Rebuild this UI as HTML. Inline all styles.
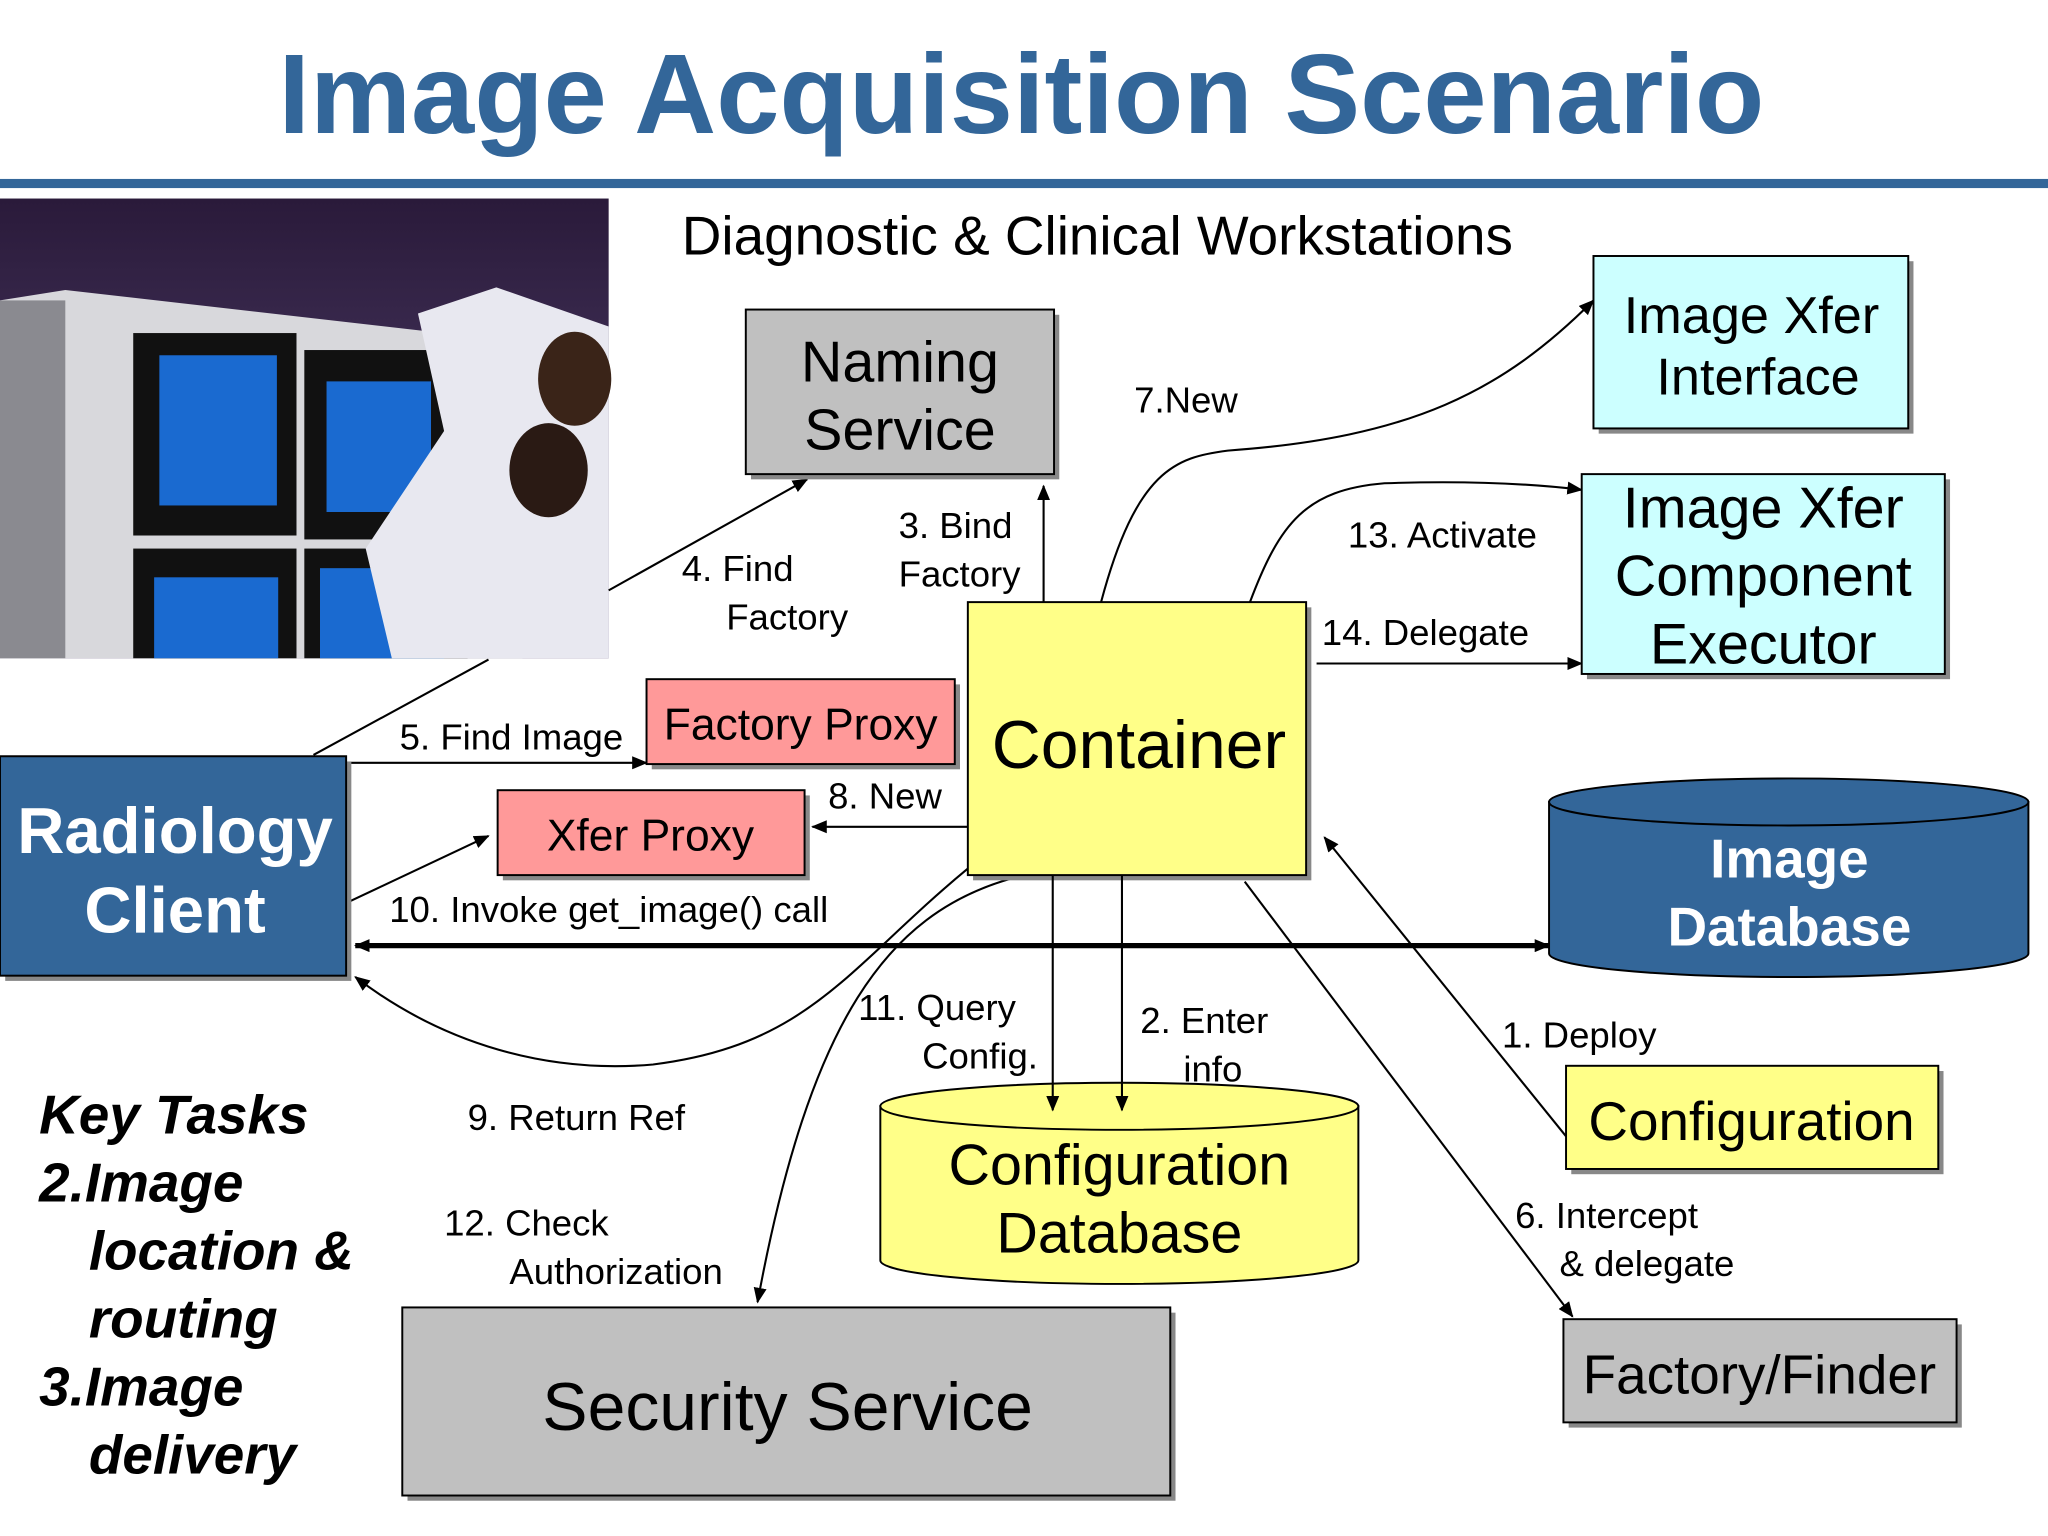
<!DOCTYPE html>
<html><head><meta charset="utf-8"><style>
html,body{margin:0;padding:0;background:#fff;}
svg{display:block;}
text{font-family:"Liberation Sans",Arial,sans-serif;}
</style></head><body>
<svg width="2048" height="1536" viewBox="0 0 1568 1176" preserveAspectRatio="none" xmlns="http://www.w3.org/2000/svg">
<defs>
<marker id="a" markerWidth="12" markerHeight="10" refX="11" refY="5" orient="auto" markerUnits="userSpaceOnUse"><path d="M0,0 L12,5 L0,10 z" fill="#000"/></marker>
<marker id="as" markerWidth="12" markerHeight="10" refX="1" refY="5" orient="auto" markerUnits="userSpaceOnUse"><path d="M12,0 L0,5 L12,10 z" fill="#000"/></marker>
<linearGradient id="bg" x1="0" y1="0" x2="0" y2="1"><stop offset="0" stop-color="#2a1a3a"/><stop offset="1" stop-color="#5a4a78"/></linearGradient>
</defs>
<rect width="1568" height="1176" fill="#fff"/>
<text x="782" y="102" font-size="87" font-weight="bold" fill="#336699" text-anchor="middle">Image Acquisition Scenario</text>
<rect x="0" y="137" width="1568" height="7" fill="#336699"/>

<!-- photo -->
<rect x="0" y="152" width="466" height="352" fill="url(#bg)"/>
<polygon points="0,230 50,222 400,262 400,504 0,504" fill="#d8d8dc"/>
<rect x="0" y="230" width="50" height="274" fill="#8a8a90"/>
<rect x="102" y="255" width="125" height="155" fill="#111"/><rect x="122" y="272" width="90" height="115" fill="#1a6ad0"/>
<rect x="233" y="268" width="125" height="145" fill="#111"/><rect x="250" y="292" width="80" height="100" fill="#1a6ad0"/>
<rect x="102" y="420" width="125" height="84" fill="#111"/><rect x="118" y="442" width="95" height="62" fill="#1a6ad0"/>
<rect x="233" y="420" width="125" height="84" fill="#111"/><rect x="245" y="435" width="95" height="69" fill="#1a6ad0"/>
<polygon points="320,240 380,220 466,250 466,504 300,504 280,420 340,330" fill="#e8e8f0"/>
<ellipse cx="440" cy="290" rx="28" ry="36" fill="#3a2418"/>
<ellipse cx="420" cy="360" rx="30" ry="36" fill="#2a1a14"/>

<text x="522" y="195" font-size="42">Diagnostic &amp; Clinical Workstations</text>

<!-- connectors -->
<g stroke="#000" stroke-width="1.6" fill="none">
<path d="M466,452 L618,367" marker-end="url(#a)"/>
<path d="M240,578 L374,505"/>
<path d="M799,461 L799,372" marker-end="url(#a)"/>
<path d="M843,461 C870,360 900,350 940,345 C1080,335 1150,300 1220,230" marker-end="url(#a)"/>
<path d="M957,461 C980,400 1000,375 1060,370 C1120,368 1170,370 1211,375" marker-end="url(#a)"/>
<path d="M1008,508 L1211,508" marker-end="url(#a)"/>
<path d="M268,584 L495,584" marker-end="url(#a)"/>
<path d="M741,633 L622,633" marker-end="url(#a)"/>
<path d="M268,690 L374,640" marker-end="url(#a)"/>
<path d="M741,665 C650,740 620,800 500,815 C420,822 340,800 272,748" marker-end="url(#a)"/>
<path d="M773,673 C680,700 620,780 580,997" marker-end="url(#a)"/>
<path d="M1199,870 L1014,641" marker-end="url(#a)"/>
<path d="M953,675 L1204,1008" marker-end="url(#a)"/>
</g>
<path d="M272,724 L1186,724" stroke="#000" stroke-width="4" fill="none" marker-end="url(#a)" marker-start="url(#as)"/>

<!-- labels -->
<g font-size="28">
<text x="908" y="316" text-anchor="middle">7.New</text>
<text x="688" y="412">3. Bind</text><text x="688" y="449">Factory</text>
<text x="522" y="445">4. Find</text><text x="556" y="482">Factory</text>
<text x="1032" y="419">13. Activate</text>
<text x="1012" y="494">14. Delegate</text>
<text x="306" y="574">5. Find Image</text>
<text x="634" y="619">8. New</text>
<text x="298" y="706">10. Invoke get_image() call</text>
<text x="657" y="781">11. Query</text><text x="706" y="818">Config.</text>
<text x="873" y="791">2. Enter</text><text x="906" y="828">info</text>
<text x="1150" y="802">1. Deploy</text>
<text x="358" y="865">9. Return Ref</text>
<text x="340" y="946">12. Check</text><text x="390" y="983">Authorization</text>
<text x="1160" y="940">6. Intercept</text><text x="1194" y="977">&amp; delegate</text>
</g>

<!-- nodes -->
<g stroke="#000" stroke-width="1.5">
<rect x="575" y="241" width="236" height="126" fill="#888" stroke="none"/>
<rect x="571" y="237" width="236" height="126" fill="#c0c0c0"/>
<rect x="1224" y="200" width="241" height="132" fill="#888" stroke="none"/>
<rect x="1220" y="196" width="241" height="132" fill="#ccffff"/>
<rect x="1215" y="367" width="278" height="153" fill="#888" stroke="none"/>
<rect x="1211" y="363" width="278" height="153" fill="#ccffff"/>
<rect x="745" y="465" width="259" height="209" fill="#888" stroke="none"/>
<rect x="741" y="461" width="259" height="209" fill="#ffff88"/>
<rect x="499" y="524" width="236" height="65" fill="#888" stroke="none"/>
<rect x="495" y="520" width="236" height="65" fill="#ff9999"/>
<rect x="385" y="609" width="235" height="65" fill="#888" stroke="none"/>
<rect x="381" y="605" width="235" height="65" fill="#ff9999"/>
<rect x="4" y="583" width="265" height="168" fill="#888" stroke="none"/>
<rect x="0" y="579" width="265" height="168" fill="#336699"/>
<rect x="1203" y="820" width="285" height="79" fill="#888" stroke="none"/>
<rect x="1199" y="816" width="285" height="79" fill="#ffff88"/>
<rect x="1201" y="1014" width="301" height="79" fill="#888" stroke="none"/>
<rect x="1197" y="1010" width="301" height="79" fill="#c0c0c0"/>
<rect x="312" y="1005" width="588" height="144" fill="#888" stroke="none"/>
<rect x="308" y="1001" width="588" height="144" fill="#c0c0c0"/>
<!-- image db -->
<path d="M1186,614 L1186,730 A183,18 0 0 0 1553,730 L1553,614 Z" fill="#336699"/>
<ellipse cx="1369.5" cy="614" rx="183.5" ry="18" fill="#336699"/>
<!-- config db -->
<path d="M674,847 L674,965 A183,18 0 0 0 1040,965 L1040,847 Z" fill="#ffff88"/>
<ellipse cx="857" cy="847" rx="183" ry="18" fill="#ffff88"/>
</g>
<g stroke="#000" stroke-width="1.6" fill="none">
<path d="M806,670 L806,850" marker-end="url(#a)"/>
<path d="M859,670 L859,850" marker-end="url(#a)"/>
</g>
<g font-size="40" text-anchor="middle">
<text x="689" y="292" font-size="44">Naming</text><text x="689" y="344" font-size="44">Service</text>
<text x="1341" y="255">Image Xfer</text><text x="1346" y="302">Interface</text>
<text x="1350" y="404" font-size="44">Image Xfer</text><text x="1350" y="456" font-size="44">Component</text><text x="1350" y="508" font-size="44">Executor</text>
<text x="872" y="588" font-size="52">Container</text>
<text x="613" y="566" font-size="34">Factory Proxy</text>
<text x="498" y="651" font-size="34">Xfer Proxy</text>
<text x="134" y="653" font-size="50" font-weight="bold" fill="#fff">Radiology</text>
<text x="134" y="714" font-size="50" font-weight="bold" fill="#fff">Client</text>
<text x="1370" y="672" font-size="42" font-weight="bold" fill="#fff">Image</text>
<text x="1370" y="724" font-size="42" font-weight="bold" fill="#fff">Database</text>
<text x="1341" y="873" font-size="42">Configuration</text>
<text x="857" y="907" font-size="44">Configuration</text><text x="857" y="959" font-size="44">Database</text>
<text x="1347" y="1067" font-size="42">Factory/Finder</text>
<text x="603" y="1095" font-size="52">Security Service</text>
</g>
<g font-size="42" font-weight="bold" font-style="italic">
<text x="30" y="868">Key Tasks</text>
<text x="30" y="920">2.Image</text>
<text x="68" y="972">location &amp;</text>
<text x="68" y="1024">routing</text>
<text x="30" y="1076">3.Image</text>
<text x="68" y="1128">delivery</text>
</g>
</svg>
</body></html>
